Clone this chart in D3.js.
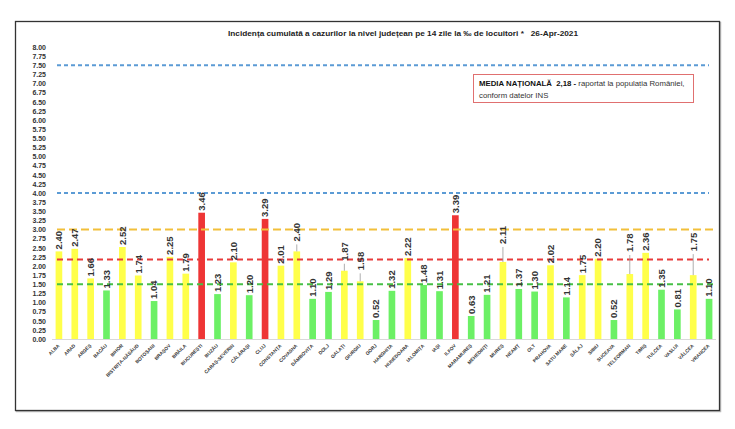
<!DOCTYPE html>
<html>
<head>
<meta charset="utf-8">
<script src="https://cdn.jsdelivr.net/npm/d3@7"></script>
<style>
  body { margin: 0; background: #fff; }
  svg { font-family: "Liberation Sans", Arial, sans-serif; }
</style>
</head>
<body>
<svg id="chart" width="735" height="429"></svg>
<script>
// county names, in chart order
const counties = ["ALBA", "ARAD", "ARGEȘ", "BACĂU", "BIHOR", "BISTRIȚA-NĂSĂUD", "BOTOȘANI",
  "BRAȘOV", "BRĂILA", "BUCUREȘTI", "BUZĂU", "CARAȘ-SEVERIN", "CĂLĂRAȘI", "CLUJ",
  "CONSTANȚA", "COVASNA", "DÂMBOVIȚA", "DOLJ", "GALAȚI", "GIURGIU", "GORJ", "HARGHITA",
  "HUNEDOARA", "IALOMIȚA", "IAȘI", "ILFOV", "MARAMUREȘ", "MEHEDINȚI", "MUREȘ", "NEAMȚ",
  "OLT", "PRAHOVA", "SATU MARE", "SĂLAJ", "SIBIU", "SUCEAVA", "TELEORMAN", "TIMIȘ",
  "TULCEA", "VASLUI", "VÂLCEA", "VRANCEA"];

// incidence per 1000 inhabitants, 14 days
const incidence = [2.40, 2.47, 1.66, 1.33, 2.52, 1.74, 1.04, 2.25, 1.79, 3.46, 1.23, 2.10,
  1.20, 3.29, 2.01, 2.40, 1.10, 1.29, 1.87, 1.58, 0.52, 1.32, 2.22, 1.48, 1.31, 3.39,
  0.63, 1.21, 2.11, 1.37, 1.30, 2.02, 1.14, 1.75, 2.20, 0.52, 1.78, 2.36, 1.35, 0.81,
  1.75, 1.10];

// threshold lines
const thresholds = [7.5, 4.0, 3.0, 2.18, 1.5];
const nationalAvg = "2,18";

const yTickValues = d3.range(0, 8.001, 0.25);

// layout
const W = 735, H = 429;
const plot = { left: 51, right: 717, top: 47, bottom: 339 };

// labels that sit higher with a small leader line (px)
const lifted = { "COVASNA": 8, "GALAȚI": 8, "GIURGIU": 9, "MUREȘ": 16, "TELEORMAN": 20, "VÂLCEA": 22 };

const svg = d3.select("#chart");

// frame with slight shadow
svg.append("rect")
  .attr("x", 16.5).attr("y", 22.5).attr("width", 704).attr("height", 389)
  .attr("fill", "none").attr("stroke", "#bbb").attr("stroke-width", 1.5);
svg.append("rect")
  .attr("x", 15.5).attr("y", 21.5).attr("width", 704).attr("height", 389)
  .attr("fill", "#fff").attr("stroke", "#333").attr("stroke-width", 1.3);

// title
svg.append("text")
  .attr("x", 403).attr("y", 36)
  .attr("text-anchor", "middle")
  .attr("font-size", 8).attr("font-weight", "bold").attr("fill", "#222")
  .attr("textLength", 350).attr("lengthAdjust", "spacingAndGlyphs")
  .text("Incidența cumulată a cazurilor la nivel județean pe 14 zile la ‰ de locuitori *\u00a0\u00a0 26-Apr-2021");

const x = d3.scaleBand()
  .domain(counties)
  .range([plot.left, plot.right])
  .paddingInner(0.58)
  .paddingOuter(0.29);

const y = d3.scaleLinear()
  .domain([0, 8])
  .range([plot.bottom, plot.top]);

// y axis labels only
const yAxis = d3.axisLeft(y)
  .tickValues(yTickValues)
  .tickFormat(d3.format(".2f"))
  .tickSize(0)
  .tickPadding(0);

const gy = svg.append("g")
  .attr("transform", "translate(46,0)")
  .call(yAxis);
gy.select(".domain").remove();
gy.selectAll("text")
  .attr("font-size", 7).attr("font-weight", "bold").attr("fill", "#333")
  .attr("font-family", "Liberation Sans, Arial, sans-serif");

// x axis baseline
svg.append("line")
  .attr("x1", plot.left + 1).attr("x2", plot.right - 1)
  .attr("y1", y(0) + 0.5).attr("y2", y(0) + 0.5)
  .attr("stroke", "#d9d9d9").attr("stroke-width", 1);

function barColor(v) {
  if (v > 3) return "#ee3535";
  if (v >= 1.5) return "#ffff4a";
  return "#6cf065";
}

const data = counties.map(function(c, i) { return { name: c, value: incidence[i] }; });

// bars
svg.selectAll(".bar")
  .data(data)
  .enter()
  .append("rect")
  .attr("class", "bar")
  .attr("x", function(d) { return x(d.name); })
  .attr("y", function(d) { return y(d.value); })
  .attr("width", x.bandwidth())
  .attr("height", function(d) { return y(0) - y(d.value); })
  .attr("fill", function(d) { return barColor(d.value); });

// threshold dashed lines
const lineStyles = [
  { color: "#5b9bd5", dash: "4,3", x2: 709 },
  { color: "#5b9bd5", dash: "4,3", x2: 709 },
  { color: "#f2bf3a", dash: "8,4", x2: 716 },
  { color: "#e83a3a", dash: "6,4", x2: 709 },
  { color: "#46c046", dash: "6,4", x2: 716 }
];

svg.selectAll(".thr")
  .data(thresholds)
  .enter()
  .append("line")
  .attr("class", "thr")
  .attr("x1", 57)
  .attr("x2", function(d, i) { return lineStyles[i].x2; })
  .attr("y1", function(d) { return y(d); })
  .attr("y2", function(d) { return y(d); })
  .attr("stroke", function(d, i) { return lineStyles[i].color; })
  .attr("stroke-width", 2)
  .attr("stroke-dasharray", function(d, i) { return lineStyles[i].dash; });

// leader lines for lifted labels
svg.selectAll(".leader")
  .data(data.filter(function(d) { return lifted[d.name]; }))
  .enter()
  .append("line")
  .attr("class", "leader")
  .attr("x1", function(d) { return x(d.name) + x.bandwidth() / 2; })
  .attr("x2", function(d) { return x(d.name) + x.bandwidth() / 2; })
  .attr("y1", function(d) { return y(d.value); })
  .attr("y2", function(d) { return y(d.value) - lifted[d.name] + 1; })
  .attr("stroke", "#999").attr("stroke-width", 0.8);

// value labels, rotated
svg.selectAll(".val")
  .data(data)
  .enter()
  .append("text")
  .attr("class", "val")
  .attr("transform", function(d) {
    const cx = x(d.name) + x.bandwidth() / 2 + 3.3;
    const cy = y(d.value) - 2 - (lifted[d.name] || 0);
    return "translate(" + cx + "," + cy + ") rotate(-90)";
  })
  .attr("font-size", 9.5).attr("font-weight", "bold").attr("fill", "#333")
  .text(function(d) { return d.value.toFixed(2); });

// county labels, 45 degrees
svg.selectAll(".cname")
  .data(data)
  .enter()
  .append("text")
  .attr("class", "cname")
  .attr("transform", function(d) {
    const cx = x(d.name) + x.bandwidth() / 2 + 1;
    return "translate(" + cx + "," + (y(0) + 7) + ") rotate(-45)";
  })
  .attr("text-anchor", "end")
  .attr("font-size", 4.8).attr("font-weight", "bold").attr("fill", "#333")
  .text(function(d) { return d.name; });

// national average box
svg.append("rect")
  .attr("x", 473.5).attr("y", 74.5).attr("width", 220).attr("height", 28)
  .attr("fill", "#fff").attr("stroke", "#e07070").attr("stroke-width", 1);

const note = svg.append("text")
  .attr("x", 479).attr("y", 86)
  .attr("font-size", 7.8).attr("fill", "#333");
note.append("tspan").attr("font-weight", "bold").attr("fill", "#111")
  .text("MEDIA NAȚIONALĂ\u00a0 " + nationalAvg + " -");
note.append("tspan").text(" raportat la populația României,");

svg.append("text")
  .attr("x", 479).attr("y", 97.5)
  .attr("font-size", 7.8).attr("fill", "#333")
  .text("conform datelor INS");
</script>
</body>
</html>
